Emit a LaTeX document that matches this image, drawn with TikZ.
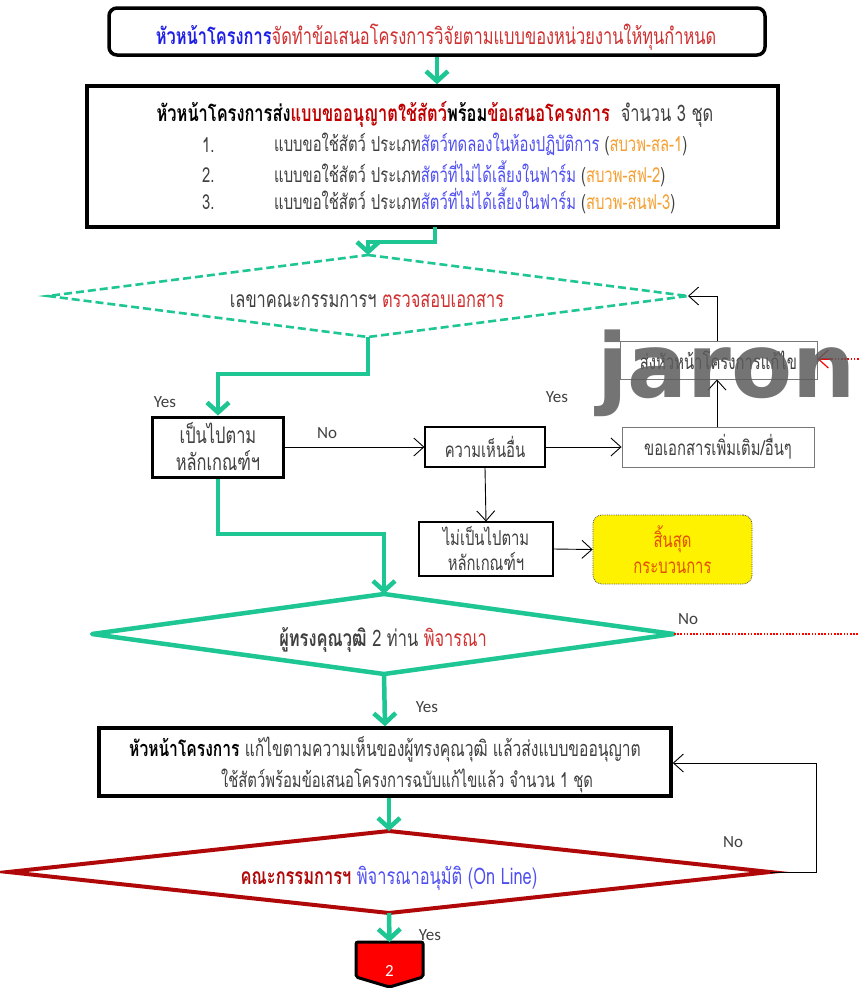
\documentclass[tikz,border=0pt]{standalone}
\usepackage{fontspec}
\usetikzlibrary{arrows.meta}
\setmainfont{Loma}[Script=Thai,FakeStretch=0.72]
\newfontfamily\latinf{Carlito}
\newfontfamily\wmfont{DejaVu Sans}[BoldFont=* Bold]

\definecolor{flowgreen}{RGB}{30,198,148}
\definecolor{txtgrey}{RGB}{64,64,64}
\definecolor{txtred}{RGB}{208,48,48}
\definecolor{darkred}{RGB}{192,0,0}
\definecolor{txtblue}{RGB}{30,30,230}
\definecolor{liteblue}{RGB}{80,80,240}
\definecolor{txtorange}{RGB}{245,160,50}
\definecolor{endorange}{RGB}{226,80,0}
\definecolor{diared}{RGB}{176,8,8}
\definecolor{boxgrey}{RGB}{120,120,120}

\tikzset{
  thaitext/.style={font=\fontsize{22.8}{24}\selectfont, text=txtgrey, inner sep=0pt},
  listtext/.style={font=\fontsize{20.6}{22}\selectfont, text=txtgrey, inner sep=0pt},
  smalltext/.style={font=\fontsize{20.6}{22}\selectfont, text=txtgrey, inner sep=0pt},
  heavybox/.style={draw=black, line width=3.5pt, fill=white, inner sep=0pt},
  plainbox/.style={draw=black, line width=1.1pt, fill=white, inner sep=0pt, align=center, smalltext},
  greybox/.style={draw=boxgrey, line width=0.9pt, fill=white, inner sep=0pt, align=center, smalltext},
  garrow/.style={draw=flowgreen, line width=4.5pt, -{Straight Barb[length=10pt,width=22pt]}},
  barrow/.style={draw=black, line width=0.9pt, -{Straight Barb[length=10pt,width=18pt]}},
  rdots/.style={draw=red, line width=2.2pt, dash pattern=on 1.6pt off 1.6pt},
  yesno/.style={font=\latinf\fontsize{17}{18}\selectfont, text=txtgrey, inner sep=0pt},
}

\begin{document}
\begin{tikzpicture}[x=1pt,y=-1pt]
\useasboundingbox (0,0) rectangle (859,989);
\clip (0,0) rectangle (859,989);
\fill[white] (0,0) rectangle (859,989);

% ---- first step: the project head prepares the proposal
\node[heavybox, rounded corners=8pt, minimum width=656pt, minimum height=47pt] (lead) at (437,31.5) {};
\node[thaitext] (leadtxt) at (436,37) {\textbf{\textcolor{txtblue}{หัวหน้าโครงการ}}\textcolor{txtred}{จัดทำข้อเสนอโครงการวิจัยตามแบบของหน่วยงานให้ทุนกำหนด}};

% ---- second step: forms submitted
\node[heavybox, minimum width=691pt, minimum height=141pt] (forms) at (432.5,156.5) {};
\node[thaitext, text=black] (formshead) at (435,114) {\textbf{หัวหน้าโครงการส่ง\textcolor{darkred}{แบบขออนุญาตใช้สัตว์}พร้อม\textcolor{darkred}{ข้อเสนอโครงการ}}\textcolor{txtgrey}{~~จำนวน 3 ชุด}};
\node[listtext, anchor=west] (n1) at (202,145) {1.};
\node[listtext, anchor=west] (n2) at (202,175) {2.};
\node[listtext, anchor=west] (n3) at (202,202) {3.};
\node[listtext, anchor=west] (f1) at (274,144) {แบบขอใช้สัตว์ ประเภท\textcolor{liteblue}{สัตว์ทดลองในห้องปฏิบัติการ} (\textcolor{txtorange}{สบวพ-สล-1})};
\node[listtext, anchor=west] (f2) at (274,174) {แบบขอใช้สัตว์ ประเภท\textcolor{liteblue}{สัตว์ที่ไม่ได้เลี้ยงในฟาร์ม} (\textcolor{txtorange}{สบวพ-สฟ-2})};
\node[listtext, anchor=west] (f3) at (274,201) {แบบขอใช้สัตว์ ประเภท\textcolor{liteblue}{สัตว์ที่ไม่ได้เลี้ยงในฟาร์ม} (\textcolor{txtorange}{สบวพ-สนฟ-3})};

% ---- secretary check (dashed diamond)
\coordinate (d1t) at (368,255);
\coordinate (d1r) at (688,296);
\coordinate (d1b) at (368,337);
\coordinate (d1l) at (48,296);
\draw[flowgreen, line width=2.6pt, dash pattern=on 8pt off 4pt, fill=white] (d1t) -- (d1r) -- (d1b) -- (d1l) -- cycle;
\node[thaitext] (d1txt) at (367,301) {เลขาคณะกรรมการฯ \textcolor{txtred}{ตรวจสอบเอกสาร}};

% ---- branch boxes
\node[heavybox, line width=3pt, minimum width=131pt, minimum height=60pt, align=center, thaitext] (ok) at (218,447) {เป็นไปตาม\\[3pt]หลักเกณฑ์ฯ};
\node[plainbox, minimum width=120pt, minimum height=40pt] (other) at (485,447) {ความเห็นอื่น};
\node[greybox, minimum width=192pt, minimum height=40pt] (moredoc) at (718,447) {ขอเอกสารเพิ่มเติม/อื่นๆ};
\node[greybox, minimum width=197pt, minimum height=38pt] (sendback) at (718.5,360) {ส่งหัวหน้าโครงการแก้ไข};
\node[plainbox, minimum width=134pt, minimum height=54pt] (notok) at (486,549) {ไม่เป็นไปตาม\\[3pt]หลักเกณฑ์ฯ};
\node[draw=black!70, densely dotted, line width=0.8pt, fill=yellow, rounded corners=9pt, minimum width=159pt, minimum height=69pt, align=center, smalltext, text=endorange] (stop) at (672.5,549.5) {สิ้นสุด\\[4pt]กระบวนการ};

% ---- expert review (green diamond)
\coordinate (d2t) at (384,594);
\coordinate (d2r) at (674,634);
\coordinate (d2b) at (384,674);
\coordinate (d2l) at (92,634);
\draw[flowgreen, line width=4.5pt, line join=round, fill=white] (d2t) -- (d2r) -- (d2b) -- (d2l) -- cycle;
\node[thaitext] (d2txt) at (383,640) {\textbf{ผู้ทรงคุณวุฒิ} 2 ท่าน \textcolor{txtred}{พิจารณา}};

% ---- revision box
\node[heavybox, minimum width=572pt, minimum height=68pt] (revise) at (385,762) {};
\node[thaitext, font=\fontsize{21.7}{24}\selectfont] (rev1) at (385,749) {\textbf{\textcolor{black}{หัวหน้าโครงการ}} แก้ไขตามความเห็นของผู้ทรงคุณวุฒิ แล้วส่งแบบขออนุญาต};
\node[listtext] (rev2) at (407,781) {ใช้สัตว์พร้อมข้อเสนอโครงการฉบับแก้ไขแล้ว จำนวน 1 ชุด};

% ---- committee approval (red diamond)
\coordinate (d3t) at (389,831);
\coordinate (d3r) at (770,872);
\coordinate (d3b) at (389,913);
\coordinate (d3l) at (8,872);
\draw[diared, line width=4pt, fill=white] (d3t) -- (d3r) -- (d3b) -- (d3l) -- cycle;
\node[thaitext] (d3txt) at (389,878) {\textbf{\textcolor{diared}{คณะกรรมการฯ}} \textcolor{liteblue}{พิจารณาอนุมัติ (On Line)}};

% ---- off-page connector
\draw[black, line width=3pt, fill=red, rounded corners=2pt] (356,942) -- (423,942) -- (423,977) -- (389.5,987) -- (356,977) -- cycle;
\node[font=\latinf\fontsize{17}{18}\selectfont, text=white, inner sep=0pt] (page2) at (389.5,971) {2};
\coordinate (page2top) at (389.5,942);

% ---- connectors
\draw[garrow] (lead.south) -- (lead.south |- forms.north);
\draw[garrow] (435,227) -- (435,242) -- (368,242) -- (d1t);
\draw[garrow] (d1b) -- (368,374) -- (218,374) -- (ok.north);
\draw[barrow] (ok.east) -- (other.west);
\draw[barrow] (other.east) -- (moredoc.west);
\draw[barrow] (moredoc.north -| 717,0) -- (sendback.south -| 717,0);
\draw[barrow] (sendback.north -| 717,0) -- (717,296) -- (d1r);
\draw[barrow] (other.south) -- (notok.north);
\draw[barrow] (notok.east) -- (stop.west);
\draw[garrow] (ok.south) -- (218,534) -- (384,534) -- (d2t);
\draw[rdots] (d2r) -- (880,634) -- (880,359) -- (832,359);
\draw[draw=red, line width=1.2pt, -{Straight Barb[length=10pt,width=18pt]}] (832,359) -- (sendback.east |- 0,359);
\draw[rdots] (830,359) -- (821,359);
\draw[garrow] (d2b) -- (revise.north);
\draw[garrow] (revise.south -| d3t) -- (d3t);
\draw[barrow] (d3r) -- (816,872) -- (816,763) -- (revise.east |- 0,763);
\draw[garrow] (d3b) -- (page2top);

% ---- branch labels
\node[yesno] (yes1) at (165,402) {Yes};
\node[yesno] (no1) at (327,433) {No};
\node[yesno] (yes2) at (557,397) {Yes};
\node[yesno] (no2) at (688,619) {No};
\node[yesno] (yes3) at (427,707) {Yes};
\node[yesno] (no3) at (733,842) {No};
\node[yesno] (yes4) at (430,935) {Yes};

% ---- site mark
\node[font=\wmfont\bfseries\fontsize{89}{89}\selectfont, text=black!64, opacity=0.85, anchor=base west, inner sep=0pt] (mark) at (597,397) {jarong};
\end{tikzpicture}
\end{document}
